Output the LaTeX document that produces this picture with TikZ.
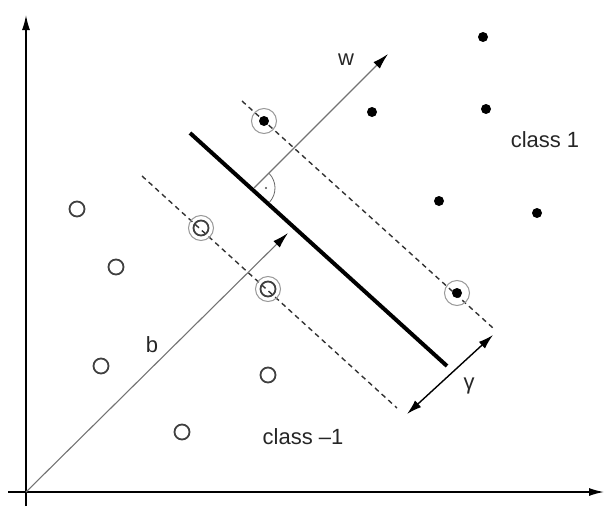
\documentclass[tikz,border=0pt]{standalone}
\usepackage{fontspec}
\setmainfont{Liberation Sans}
\usetikzlibrary{arrows.meta}
\begin{document}
\begin{tikzpicture}[x=1pt,y=-1pt,
  axis/.style={line width=1.4pt,black,-{Latex[length=15pt,width=8pt]}},
  vec/.style={line width=1.1pt,black!55,-{Latex[length=16pt,width=9pt,black]}},
  margin/.style={line width=1.4pt,black!80,dash pattern=on 5pt off 4pt},
  hyper/.style={line width=4pt,black},
  gap/.style={line width=1.4pt,black,{Latex[length=15pt,width=9pt]}-{Latex[length=15pt,width=9pt]}},
  posdot/.style={circle,fill=black,inner sep=0pt,minimum size=10pt},
  negdot/.style={circle,draw=black!75,line width=1.8pt,inner sep=0pt,minimum size=15pt},
  svring/.style={circle,draw=black!40,line width=1pt,inner sep=0pt,minimum size=25pt},
  lab/.style={font=\fontsize{22}{26}\selectfont,inner sep=0pt,text=black!85}]
\useasboundingbox (0,0) rectangle (605,506);
% axes
\coordinate (xs) at (8,492);
\coordinate (xe) at (604,492);
\coordinate (ys) at (26,506);
\coordinate (ye) at (26,15);
\coordinate (o) at (26,492);
\draw[axis] (xs) -- (xe);
\draw[axis] (ys) -- (ye);
% margins and hyperplane
\coordinate (u1) at (242,101);
\coordinate (u2) at (493,328);
\coordinate (l1) at (142,176);
\coordinate (l2) at (397,408);
\coordinate (h1) at (190,133);
\coordinate (h2) at (447,366);
\draw[margin] (u1) -- (u2);
\draw[margin] (l1) -- (l2);
\draw[hyper] (h1) -- (h2);
% vectors
\coordinate (btip) at (288,233);
\coordinate (wb) at (254,188);
\coordinate (wtip) at (388,54);
\draw[vec] (o) -- (btip);
\draw[vec] (wb) -- (wtip);
% right angle marker
\draw[black!60,line width=0.8pt] (wb) ++(-44:21) arc[start angle=-44,end angle=42,radius=21];
\fill[black!70] (wb) ++(0:12) circle[radius=1.2];
% gamma arrow
\coordinate (g1) at (407,414);
\coordinate (g2) at (493,335);
\draw[gap] (g1) -- (g2);
% class 1 points
\node[posdot] (p1) at (483,37) {};
\node[posdot] (p2) at (372,112) {};
\node[posdot] (p3) at (486,109) {};
\node[posdot] (p4) at (439,201) {};
\node[posdot] (p5) at (537,213) {};
\node[posdot] (ps1) at (264,121) {};
\node[svring] (rs1) at (264,121) {};
\node[posdot] (ps2) at (457,293) {};
\node[svring] (rs2) at (457,293) {};
% class -1 points
\node[negdot] (n1) at (77,209) {};
\node[negdot] (n2) at (116,267) {};
\node[negdot] (n3) at (101,366) {};
\node[negdot] (n4) at (182,432) {};
\node[negdot] (n5) at (268,375) {};
\node[negdot] (ns1) at (201,228) {};
\node[svring] (rn1) at (201,228) {};
\node[negdot] (ns2) at (268,289) {};
\node[svring] (rn2) at (268,289) {};
% labels
\node[lab] (lw) at (346,60) {w};
\node[lab] (lb) at (152,345) {b};
\node[lab] (lg) at (469,386) {γ};
\node[lab] (lc1) at (545,140) {class 1};
\node[lab] (lc2) at (303,437) {class –1};
\end{tikzpicture}
\end{document}
